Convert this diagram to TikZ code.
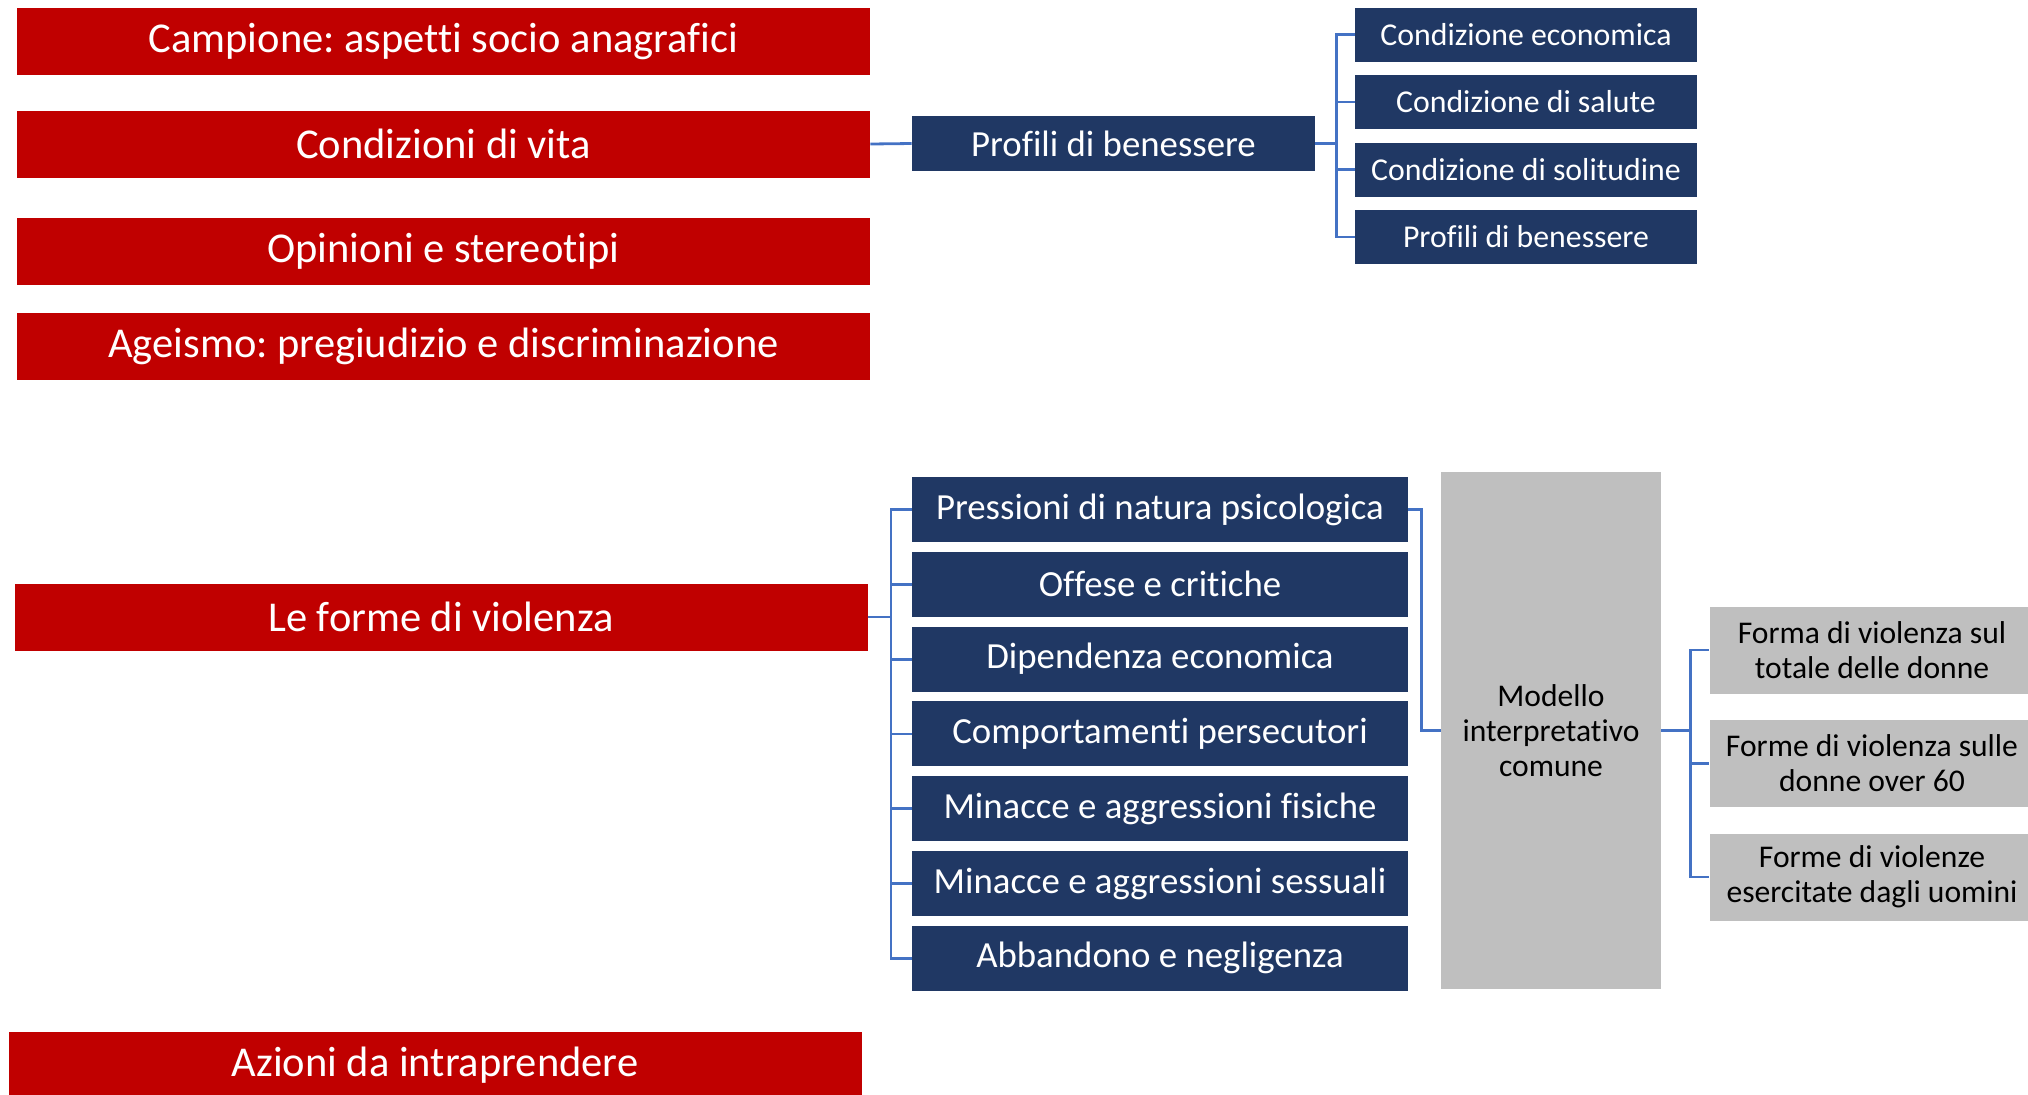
\documentclass[tikz,border=0pt]{standalone}
\usepackage{fontspec}
\setmainfont{Carlito}[Ligatures=NoCommon]
\usepackage{tikz}
\frenchspacing

\definecolor{rosso}{HTML}{C00000}
\definecolor{blu}{HTML}{203864}
\definecolor{grigio}{HTML}{BFBFBF}
\definecolor{linea}{HTML}{4472C4}

\tikzset{
    redbox/.style={fill=rosso,text=white,inner sep=0pt,minimum width=426.5pt,minimum height=33.5pt,
        font=\fontsize{21.25pt}{25pt}\selectfont},
    navybox/.style={fill=blu,text=white,inner sep=0pt,font=\fontsize{18.4pt}{22pt}\selectfont},
    smallnavy/.style={fill=blu,text=white,inner sep=0pt,minimum width=171pt,minimum height=27pt,
        font=\fontsize{15.9pt}{17.5pt}\selectfont},
    graybox/.style={fill=grigio,text=black,inner sep=0pt,align=center,
        font=\fontsize{15.8pt}{17.5pt}\selectfont},
    link/.style={draw=linea,line width=1.4pt}
}

\begin{document}
\begin{tikzpicture}[x=0.5pt,y=-0.5pt]
    \clip (0,0) rectangle (2028,1094);
    % left column
    \node[redbox] (campione) at (443.5,41.5) {Campione: aspetti socio anagrafici};
    \node[redbox] (vita) at (443.5,144) {Condizioni di vita};
    \node[redbox] (opinioni) at (443.5,251) {Opinioni e stereotipi};
    \node[redbox] (ageismo) at (443.5,346.5) {Ageismo: pregiudizio e discriminazione};
    \node[redbox] (violenza) at (441,617) {Le forme di violenza};
    \node[redbox] (azioni) at (435,1065.5) {Azioni da intraprendere};

    % condizioni di vita
    \node[navybox,minimum width=201.5pt,minimum height=27.5pt] (benessere) at (1113.5,143.5) {Profili di benessere};
    \draw[link] (vita.east) -- (benessere.west);
    \foreach \t [count=\i] in {Condizione economica,Condizione di salute,Condizione di solitudine,Profili di benessere} {
        \node[smallnavy] (c\i) at (1526,34.5+\i*67.5-67.5) {\t};
        \draw[link] (benessere.east) -- ++(21,0) |- (c\i.west);
    }

    % forme di violenza
    \foreach \t [count=\i] in {Pressioni di natura psicologica,Offese e critiche,Dipendenza economica,
        Comportamenti persecutori,Minacce e aggressioni fisiche,Minacce e aggressioni sessuali,Abbandono e negligenza} {
        \node[navybox,minimum width=248pt,minimum height=32.5pt] (f\i) at (1160,509.5+\i*74.8-74.8) {\t};
        \draw[link] (violenza.east) -- ++(23,0) |- (f\i.west);
    }
    \node[graybox,minimum width=110pt,minimum height=258.5pt] (modello) at (1551,730.5) {Modello\\interpretativo\\comune};
    \draw[link] (f1.east) -- ++(13,0) |- (modello.west);
    \foreach \t [count=\i] in {{Forma di violenza sul\\totale delle donne},{Forme di violenza sulle\\donne over 60},
        {Forme di violenze\\esercitate dagli uomini}} {
        \node[graybox,minimum width=162.5pt,minimum height=43.5pt] (e\i) at (1872,650+\i*113.5-113.5) {\t};
        \draw[link] (modello.east) -- ++(29,0) |- (e\i.west);
    }
\end{tikzpicture}
\end{document}
